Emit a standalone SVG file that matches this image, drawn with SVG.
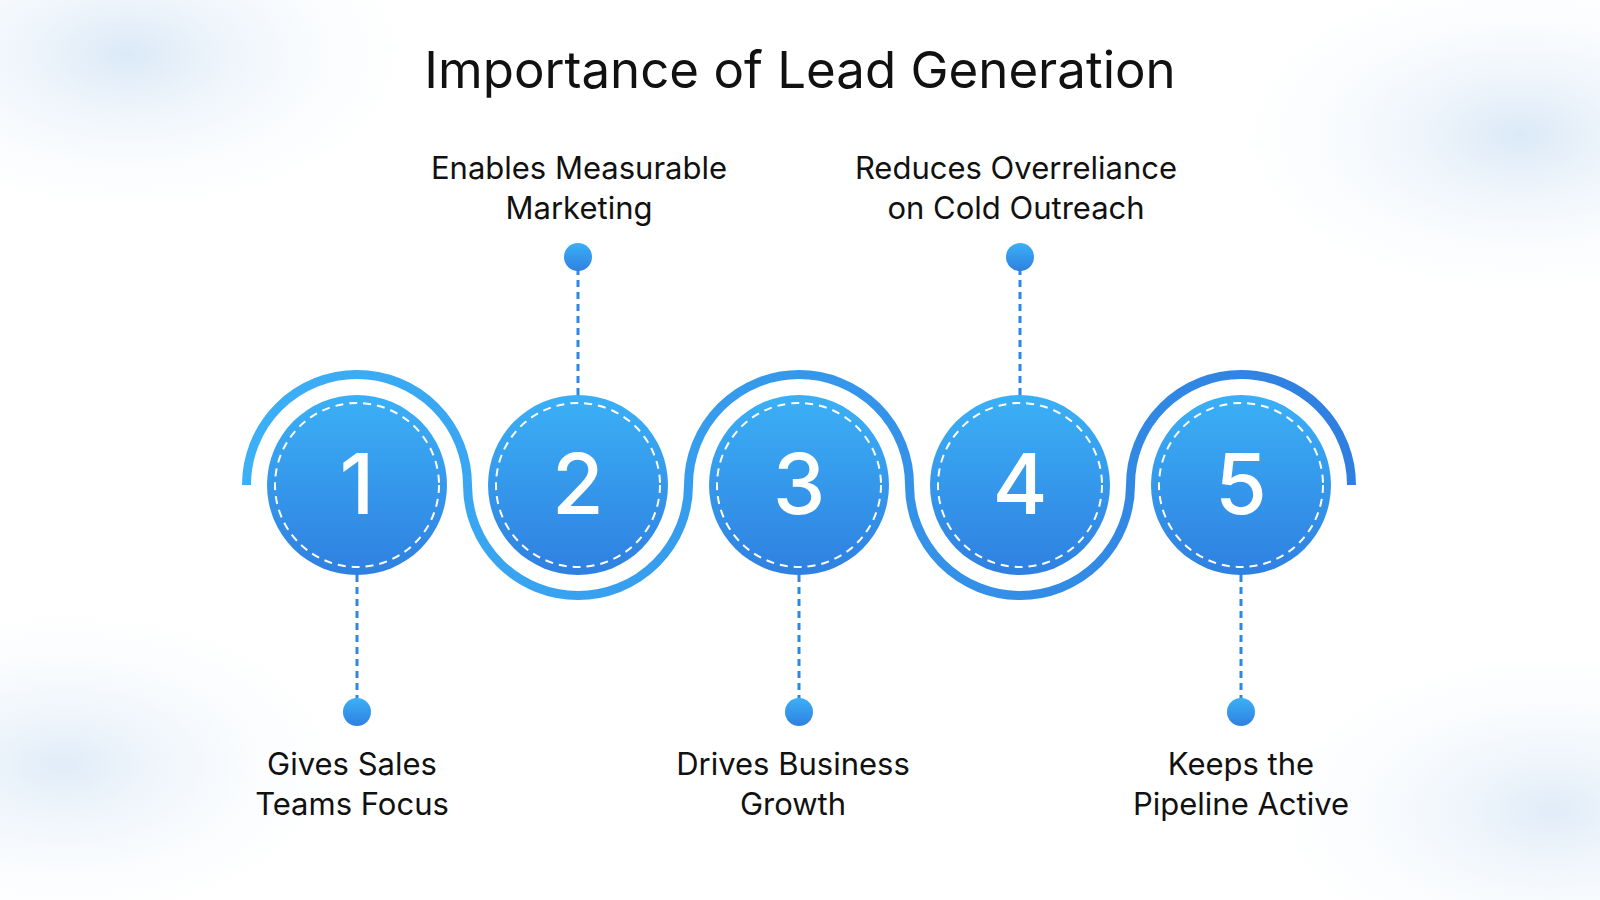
<svg xmlns="http://www.w3.org/2000/svg" width="1600" height="900" viewBox="0 0 1600 900">
<defs>
<linearGradient id="g" x1="0" y1="0" x2="0" y2="1"><stop offset="0" stop-color="#3bb0f6"/><stop offset="1" stop-color="#2f80e0"/></linearGradient>
<linearGradient id="ga" x1="0" y1="0" x2="1" y2="0"><stop offset="0" stop-color="#3bb0f6"/><stop offset="1" stop-color="#2f7fe0"/></linearGradient>
<radialGradient id="bg1" cx="0.08" cy="0.06" r="0.2"><stop offset="0" stop-color="#dbe9f7"/><stop offset="1" stop-color="#fff" stop-opacity="0"/></radialGradient>
<radialGradient id="bg2" cx="0.95" cy="0.15" r="0.2"><stop offset="0" stop-color="#dbe9f7"/><stop offset="1" stop-color="#fff" stop-opacity="0"/></radialGradient>
<radialGradient id="bg3" cx="0.04" cy="0.85" r="0.2"><stop offset="0" stop-color="#e0ecf8"/><stop offset="1" stop-color="#fff" stop-opacity="0"/></radialGradient>
<radialGradient id="bg4" cx="0.97" cy="0.9" r="0.2"><stop offset="0" stop-color="#e0ecf8"/><stop offset="1" stop-color="#fff" stop-opacity="0"/></radialGradient>
</defs>
<style>
.t{font-family:"Inter","Noto Sans",sans-serif;fill:#111;text-anchor:middle}
.lab{font-size:31px}
.num{font-family:"Inter","Noto Sans",sans-serif;font-size:84px;fill:#fff;text-anchor:middle;font-weight:500}
.c{fill:url(#g)}
.ring{fill:none;stroke:#fff;stroke-width:2;stroke-dasharray:8 6}
.arc{fill:none;stroke:url(#ga);stroke-width:9}
.dash{stroke:#2f86e3;stroke-width:3;stroke-dasharray:7 5}
.dot{fill:url(#g)}
</style>
<rect width="1600" height="900" fill="#fff"/>
<rect width="1600" height="900" fill="url(#bg1)"/>
<rect width="1600" height="900" fill="url(#bg2)"/>
<rect width="1600" height="900" fill="url(#bg3)"/>
<rect width="1600" height="900" fill="url(#bg4)"/>
<text class="t" x="800" y="88" font-size="51">Importance of Lead Generation</text>
<g id="connectors">
<path class="arc" d="M246.5 485 A110.5 110.5 0 0 1 467.5 485 A110.5 110.5 0 0 0 688.5 485 A110.5 110.5 0 0 1 909.5 485 A110.5 110.5 0 0 0 1130.5 485 A110.5 110.5 0 0 1 1351.5 485"/>
<line class="dash" x1="357" y1="575" x2="357" y2="712"/>
<line class="dash" x1="578" y1="395" x2="578" y2="257"/>
<line class="dash" x1="799" y1="575" x2="799" y2="712"/>
<line class="dash" x1="1020" y1="395" x2="1020" y2="257"/>
<line class="dash" x1="1241" y1="575" x2="1241" y2="712"/>
</g>
<g id="n1"><circle class="c" cx="357" cy="485" r="90"/><circle class="ring" cx="357" cy="485" r="82"/><text class="num" x="357" y="514">1</text><circle class="dot" cx="357" cy="712" r="14"/><text class="t lab" x="352" y="775">Gives Sales</text><text class="t lab" x="352" y="815">Teams Focus</text></g>
<g id="n2"><circle class="c" cx="578" cy="485" r="90"/><circle class="ring" cx="578" cy="485" r="82"/><text class="num" x="578" y="514">2</text><circle class="dot" cx="578" cy="257" r="14"/><text class="t lab" x="579" y="179">Enables Measurable</text><text class="t lab" x="579" y="219">Marketing</text></g>
<g id="n3"><circle class="c" cx="799" cy="485" r="90"/><circle class="ring" cx="799" cy="485" r="82"/><text class="num" x="799" y="514">3</text><circle class="dot" cx="799" cy="712" r="14"/><text class="t lab" x="793" y="775">Drives Business</text><text class="t lab" x="793" y="815">Growth</text></g>
<g id="n4"><circle class="c" cx="1020" cy="485" r="90"/><circle class="ring" cx="1020" cy="485" r="82"/><text class="num" x="1020" y="514">4</text><circle class="dot" cx="1020" cy="257" r="14"/><text class="t lab" x="1016" y="179">Reduces Overreliance</text><text class="t lab" x="1016" y="219">on Cold Outreach</text></g>
<g id="n5"><circle class="c" cx="1241" cy="485" r="90"/><circle class="ring" cx="1241" cy="485" r="82"/><text class="num" x="1241" y="514">5</text><circle class="dot" cx="1241" cy="712" r="14"/><text class="t lab" x="1241" y="775">Keeps the</text><text class="t lab" x="1241" y="815">Pipeline Active</text></g>
</svg>
